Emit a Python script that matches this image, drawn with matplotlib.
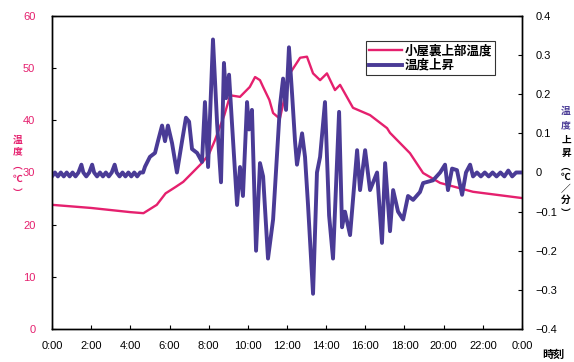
import matplotlib.pyplot as plt
from matplotlib.ticker import FuncFormatter

plt.rcParams['font.family'] = ['Liberation Sans', 'Noto Sans CJK JP']

# 小屋裏上部温度 (left axis, deg C)
temp_time = [0, 2, 4, 4.67, 5.35, 5.8, 6.3, 6.7, 7.15, 7.65, 8.0, 8.3, 8.5, 8.8,
             9.1, 9.6, 10.1, 10.37, 10.62, 10.78, 11.1, 11.29, 11.54, 11.64,
             12.15, 12.67, 13.02, 13.33, 13.69, 14.04, 14.45, 14.71, 15.37,
             16.24, 17.11, 17.26, 18.28, 18.95, 19.82, 21.5, 24]
temp_values = [23.8, 23.2, 22.4, 22.2, 23.8, 26, 27.2, 28.2, 29.9, 31.8, 33.4, 36,
               38, 41, 44.8, 44.5, 46.4, 48.3, 47.7, 46.4, 43.9, 41.4, 40.6, 40.4,
               49, 52, 52.2, 49, 47.7, 49, 45.8, 46.8, 42.4,
               41, 38.5, 37.6, 33.7, 29.9, 28, 26.3, 25.1]

# 温度上昇 (right axis, deg C / min)
rate_time = [0.0, 0.15, 0.3, 0.45, 0.6, 0.75, 0.9, 1.05, 1.2, 1.35, 1.5, 1.6,
             1.75, 1.9, 2.05, 2.15, 2.3, 2.45, 2.6, 2.75, 2.9, 3.05, 3.2, 3.3,
             3.45, 3.6, 3.75, 3.9, 4.05, 4.2, 4.35, 4.5, 4.65,
             4.75, 5.0, 5.26, 5.41, 5.62, 5.77, 5.92, 6.13, 6.38, 6.64, 6.84,
             7.0, 7.15, 7.41, 7.66, 7.81, 7.97, 8.22, 8.43, 8.63, 8.78, 8.89,
             9.04, 9.19, 9.45, 9.6, 9.75, 9.96, 10.06, 10.21, 10.42, 10.62,
             10.78, 11.03, 11.29, 11.64, 11.8, 11.95, 12.1, 12.26, 12.41, 12.51,
             12.77, 12.92, 13.07, 13.33, 13.53, 13.69, 13.94, 14.15, 14.35,
             14.66, 14.81, 14.96, 15.22, 15.58, 15.73, 15.99, 16.24, 16.6,
             16.85, 17.01, 17.26, 17.42, 17.67, 17.93, 18.18, 18.44, 18.79,
             18.95, 19.46, 19.82, 20.07, 20.22, 20.43, 20.68, 20.94, 21.14,
             21.35, 21.5, 21.7, 21.9, 22.1, 22.3, 22.5, 22.7, 22.9, 23.1, 23.3,
             23.5, 23.7, 24.0]
rate_values = [-0.01, 0, -0.01, 0, -0.01, 0, -0.01, 0, -0.01, 0, 0.02, 0,
               -0.01, 0, 0.02, 0, -0.01, 0, -0.01, 0, -0.01, 0, 0.02, 0,
               -0.01, 0, -0.01, 0, -0.01, 0, -0.01, 0, 0.0,
               0.015, 0.04, 0.05, 0.08, 0.12, 0.08, 0.12, 0.075, 0.0, 0.08, 0.14,
               0.13, 0.06, 0.05, 0.027, 0.18, 0.014, 0.34, 0.126, -0.025, 0.28, 0.19,
               0.25, 0.126, -0.083, 0.014, -0.06, 0.18, 0.11, 0.16, -0.2, 0.024,
               -0.01, -0.22, -0.12, 0.17, 0.24, 0.16, 0.32, 0.2, 0.08, 0.02,
               0.1, 0.04, -0.08, -0.31, 0.0, 0.04, 0.18, -0.11, -0.22,
               0.155, -0.14, -0.1, -0.16, 0.057, -0.045, 0.057, -0.045, 0.0,
               -0.18, 0.024, -0.15, -0.045, -0.1, -0.12, -0.06, -0.07, -0.05,
               -0.027, -0.02, 0.0, 0.02, -0.045, 0.01, 0.006, -0.057, 0.0,
               0.02, -0.01, 0, -0.01, 0, -0.01, 0, -0.01, 0, -0.01, 0.005,
               -0.01, 0, 0.0]

hour_ticks = list(range(0, 25, 2))
hour_labels = ['0:00', '2:00', '4:00', '6:00', '8:00', '10:00', '12:00',
               '14:00', '16:00', '18:00', '20:00', '22:00', '0:00']

pink = '#e5206e'
purple = '#4a3b96'
cjk = ['Noto Sans CJK JP', 'DejaVu Sans']

fig = plt.figure(figsize=(5.74, 3.62), dpi=100)
ax = fig.add_axes([0.0906, 0.0912, 0.8188, 0.8646])
ax2 = ax.twinx()

l1, = ax.plot(temp_time, temp_values, color=pink, lw=1.7, label='小屋裏上部温度')
l2, = ax2.plot(rate_time, rate_values, color=purple, lw=2.8, label='温度上昇')

ax.set_xlim(0, 24)
ax.set_ylim(0, 60)
ax2.set_ylim(-0.4, 0.4)
ax.set_xticks(hour_ticks)
ax.set_xticklabels(hour_labels)
ax.set_yticks(range(0, 61, 10))
ax2.set_yticks([i / 10 for i in range(-4, 5)])
ax2.yaxis.set_major_formatter(FuncFormatter(
    lambda v, p: '0' if abs(v) < 1e-9 else ('%.1f' % v).replace('-', '\u2212')))

ax.tick_params(axis='x', direction='in', length=3, labelsize=8, pad=9)
ax.tick_params(axis='y', direction='in', length=3, labelsize=8,
               labelcolor=pink, pad=12)
ax2.tick_params(axis='y', direction='in', length=3, labelsize=8, pad=10)
for a in (ax, ax2):
    for s in a.spines.values():
        s.set_linewidth(1.0)

leg = ax2.legend(handles=[l1, l2], loc='upper left',
                 bbox_to_anchor=(0.655, 0.94), frameon=True, fancybox=False,
                 edgecolor='black', handlelength=2.6, borderpad=0.25,
                 labelspacing=0.15, handletextpad=0.2,
                 prop={'family': cjk, 'size': 9, 'weight': 'bold'})
leg.get_frame().set_linewidth(0.8)

# vertical axis titles
left_chars = ['温', '度', '︵', '℃', '︶']
left_y = [140, 151, 165, 179, 193]
for ch, yy in zip(left_chars, left_y):
    fig.text(18 / 574, 1 - yy / 362, ch, color=pink, fontsize=7, fontweight='bold',
             family=cjk, ha='center', va='center')

right_chars = ['温', '度', '上', '昇', '︵', '℃', '／', '分', '︶']
right_y = [111, 125, 140, 153, 166, 177, 189, 200, 213]
for i, (ch, yy) in enumerate(zip(right_chars, right_y)):
    fig.text(566 / 574, 1 - yy / 362, ch, color=purple if i < 2 else 'black',
             fontsize=7, fontweight='bold', family=cjk, ha='center', va='center')

fig.text(553 / 574, 1 - 354 / 362, '時刻', fontsize=8, fontweight='bold',
         family=cjk, ha='center', va='center')

fig.savefig('out.png', dpi=100)
